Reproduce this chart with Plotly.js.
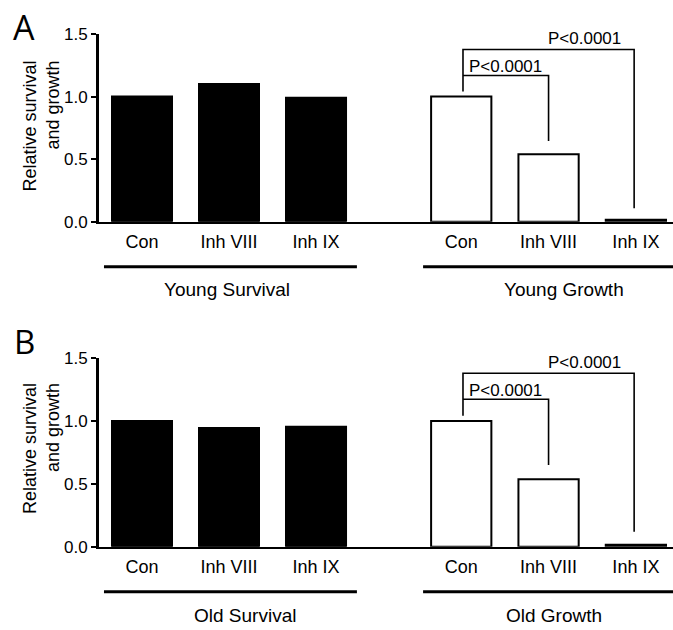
<!DOCTYPE html>
<html>
<head>
<meta charset="utf-8">
<script src="https://cdn.plot.ly/plotly-3.0.1.min.js"></script>
<style>html,body{margin:0;padding:0;background:#fff;}#chart{width:673px;height:630px;}</style>
</head>
<body>
<div id="chart"></div>
<script>
// ---- data ----
const treatments = ["Con", "Inh VIII", "Inh IX"];
const youngSurvival = [1.00, 1.10, 0.99];
const youngGrowth = [1.00, 0.54, 0.015];
const oldSurvival = [1.00, 0.945, 0.955];
const oldGrowth = [1.00, 0.537, 0.015];
const groupLabelsA = ["Young Survival", "Young Growth"];
const groupLabelsB = ["Old Survival", "Old Growth"];
const pLabel = "P<0.0001";
const yTitle = "Relative survival<br>and growth";
const yTicks = [0, 0.5, 1.0, 1.5];

// ---- layout helpers ----
const W = 673, H = 630;
const fx = px => px / W;
const fy = py => 1 - py / H;
const FONT = "Liberation Sans, Arial, sans-serif";

const xLeftDom = [fx(98.5), fx(388.5)];
const xRightDom = [fx(388.5), 1];
const panelA = {top: 34, bottom: 221.7};
const panelB = {top: 358.3, bottom: 546.7};

function bar(vals, xa, ya, filled) {
  return {
    type: "bar", x: treatments, y: vals, xaxis: xa, yaxis: ya,
    width: 0.69,
    marker: {color: filled ? "#000" : "#fff", line: {color: "#000", width: 2}},
    hoverinfo: "skip", showlegend: false
  };
}

const data = [
  bar(youngSurvival, "x", "y", true),
  bar(youngGrowth, "x2", "y", false),
  bar(oldSurvival, "x3", "y2", true),
  bar(oldGrowth, "x4", "y2", false)
];

function xax(dom, anchor, range) {
  return {
    domain: dom, anchor: anchor, type: "category", range: range,
    showline: true, linecolor: "#000", linewidth: 2.5,
    ticks: "outside", ticklen: 2, tickcolor: "rgba(0,0,0,0)",
    tickfont: {family: FONT, size: 18, color: "#000"},
    showgrid: false, zeroline: false, fixedrange: true
  };
}
function yax(dom, anchor) {
  return {
    domain: dom, anchor: anchor, range: [0, 1.5],
    tickvals: yTicks, tickformat: ".1f",
    showline: true, linecolor: "#000", linewidth: 2.5,
    ticks: "outside", ticklen: 5, tickwidth: 2, tickcolor: "#000",
    tickfont: {family: FONT, size: 17, color: "#000"},
    showgrid: false, zeroline: false, fixedrange: true
  };
}

const leftRange = [-0.5, 2.833];
const rightRange = [-0.833, 2.425];

const shapes = [];
const annotations = [];

function bracketSet(xref, yref, outerY, innerY, conTop, ixTop, viiiTop) {
  const ln = {color: "#000", width: 1.6};
  shapes.push({type: "path", xref: xref, yref: yref,
    path: `M 0.02,${conTop} L 0.02,${outerY} L 1.98,${outerY} L 1.98,${ixTop}`, line: ln});
  shapes.push({type: "path", xref: xref, yref: yref,
    path: `M 0.02,${innerY} L 1.0,${innerY} L 1.0,${viiiTop}`, line: ln});
}

function groupLines(xa, xb, lineY, labelY, labels, labelX) {
  shapes.push({type: "line", xref: xa, yref: "paper", x0: -0.437, x1: 2.47, y0: fy(lineY), y1: fy(lineY), line: {color: "#000", width: 3}});
  shapes.push({type: "line", xref: xb, yref: "paper", x0: -0.437, x1: 2.425, y0: fy(lineY), y1: fy(lineY), line: {color: "#000", width: 3}});
  labels.forEach((t, i) => annotations.push({text: t, xref: "paper", yref: "paper",
    x: fx(labelX[i]), y: fy(labelY), xanchor: "center", yanchor: "middle", showarrow: false,
    font: {family: FONT, size: 19, color: "#000"}}));
}

const pFont = {family: FONT, size: 17, color: "#000"};
// panel A brackets
bracketSet("x2", "y", 1.376, 1.168, 1.04, 0.107, 0.644);
annotations.push({text: pLabel, xref: "x2", yref: "y", x: 1.408, y: 1.465, showarrow: false, xanchor: "center", yanchor: "middle", font: pFont});
annotations.push({text: pLabel, xref: "x2", yref: "y", x: 0.506, y: 1.237, showarrow: false, xanchor: "center", yanchor: "middle", font: pFont});
// panel B brackets
bracketSet("x4", "y2", 1.381, 1.174, 1.043, 0.12, 0.65);
annotations.push({text: pLabel, xref: "x4", yref: "y2", x: 1.408, y: 1.465, showarrow: false, xanchor: "center", yanchor: "middle", font: pFont});
annotations.push({text: pLabel, xref: "x4", yref: "y2", x: 0.506, y: 1.242, showarrow: false, xanchor: "center", yanchor: "middle", font: pFont});

groupLines("x", "x2", 266.7, 290, groupLabelsA, [227, 563.5]);
groupLines("x3", "x4", 591.7, 615, groupLabelsB, [245, 554]);

// y axis titles
[[126], [448.5]].forEach(([cy]) => annotations.push({text: yTitle, xref: "paper", yref: "paper",
  x: fx(41.5), y: fy(cy), xanchor: "center", yanchor: "middle", textangle: -90, align: "right", showarrow: false,
  font: {family: FONT, size: 18, color: "#000"}}));

// panel letters
annotations.push({text: "A", xref: "paper", yref: "paper", x: fx(24), y: fy(27), showarrow: false, xanchor: "center", yanchor: "middle", font: {family: "Open Sans, sans-serif", size: 34, color: "#000"}});
annotations.push({text: "B", xref: "paper", yref: "paper", x: fx(24), y: fy(341), showarrow: false, xanchor: "center", yanchor: "middle", font: {family: "Open Sans, sans-serif", size: 33, color: "#000"}});

const layout = {
  width: W, height: H,
  margin: {l: 0, r: 0, t: 0, b: 0},
  paper_bgcolor: "#fff", plot_bgcolor: "#fff",
  xaxis: xax(xLeftDom, "y", leftRange),
  xaxis2: xax(xRightDom, "y", rightRange),
  xaxis3: xax(xLeftDom, "y2", leftRange),
  xaxis4: xax(xRightDom, "y2", rightRange),
  yaxis: yax([fy(panelA.bottom), fy(panelA.top)], "x"),
  yaxis2: yax([fy(panelB.bottom), fy(panelB.top)], "x3"),
  shapes: shapes,
  annotations: annotations,
  showlegend: false
};

Plotly.newPlot("chart", data, layout, {displayModeBar: false, staticPlot: true});
</script>
</body>
</html>
